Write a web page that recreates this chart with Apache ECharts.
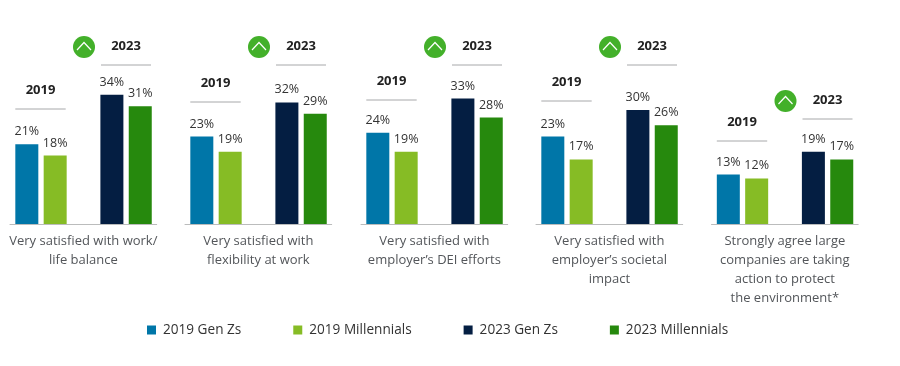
<!DOCTYPE html>
<html>
<head>
<meta charset="utf-8">
<style>
  html, body { margin: 0; padding: 0; background: #fff; }
  #chart { width: 900px; height: 366px; }
</style>
<script src="https://cdn.jsdelivr.net/npm/echarts@6/dist/echarts.min.js"></script>
</head>
<body>
<div id="chart"></div>
<script>
// values, one entry per panel
const captions = [
  'Very satisfied with work/\nlife balance',
  'Very satisfied with\nflexibility at work',
  'Very satisfied with\nemployer\u2019s DEI efforts',
  'Very satisfied with\nemployer\u2019s societal\nimpact',
  'Strongly agree large\ncompanies are taking\naction to protect\nthe environment*'
];
const seriesNames = ['2019 Gen Zs', '2019 Millennials', '2023 Gen Zs', '2023 Millennials'];
const genZ2019 = [21, 23, 24, 23, 13];
const mill2019 = [18, 19, 19, 17, 12];
const genZ2023 = [34, 32, 33, 30, 19];
const mill2023 = [31, 29, 28, 26, 17];
const yearLabels = ['2019', '2023'];

// layout
const colors = ['#0076A8', '#86BC25', '#041E42', '#26890D'];
const slots = [0, 1, 3, 4]; // bar slots on the x axis, slot 2 is the gap
const panelLeft = [10, 185, 361, 536, 711.5];
const panelWidth = 146.7;
const header2019Y = [109, 102, 100, 101, 141];
const header2023Y = [65, 65, 65, 65, 119];
const font = '"Open Sans", sans-serif';

const allValues = [genZ2019, mill2019, genZ2023, mill2023];

const grids = [], xAxes = [], yAxes = [], series = [], graphics = [];

panelLeft.forEach((left, p) => {
  grids.push({ left: left, top: 34, width: panelWidth, height: 190 });
  xAxes.push({
    type: 'value', gridIndex: p, min: -0.593, max: 4.58,
    axisLabel: { show: false }, axisTick: { show: false }, splitLine: { show: false },
    axisLine: { show: true, onZero: false, lineStyle: { color: '#BBBCBC', width: 1 } },
    name: captions[p],
    nameLocation: 'middle',
    nameGap: 8,
    nameTextStyle: {
      fontFamily: font, fontSize: 13, color: '#53565A',
      lineHeight: 19, align: 'center', verticalAlign: 'top'
    }
  });
  yAxes.push({ type: 'value', gridIndex: p, min: 0, max: 50, show: false });

  seriesNames.forEach((name, s) => {
    series.push({
      name: name,
      type: 'bar',
      xAxisIndex: p,
      yAxisIndex: p,
      barWidth: 23,
      barGap: '-100%',
      itemStyle: { color: colors[s] },
      label: {
        show: true, position: 'top', distance: 6,
        fontFamily: font, fontSize: 12.5, color: '#333',
        formatter: (d) => d.value[1] + '%'
      },
      data: [[slots[s], allValues[s][p]]]
    });
  });

  // year headers and the up badge
  [[5.3, 55.7, header2019Y[p]], [91, 141, header2023Y[p]]].forEach((h, i) => {
    graphics.push({
      type: 'line',
      shape: { x1: left + h[0], y1: h[2], x2: left + h[1], y2: h[2] },
      style: { stroke: '#A7A8AA', lineWidth: 1 }
    });
    graphics.push({
      type: 'text', x: left + (h[0] + h[1]) / 2, y: h[2] - 18.5,
      style: {
        text: yearLabels[i], fontFamily: font, fontSize: 13, fontWeight: 'bold',
        fill: '#222', align: 'center', verticalAlign: 'middle'
      }
    });
  });
  const cx = left + 74, cy = header2023Y[p] - 18;
  graphics.push({ type: 'circle', shape: { cx: cx, cy: cy, r: 11 }, style: { fill: '#43B02A' } });
  graphics.push({
    type: 'polyline',
    shape: { points: [[cx - 7, cy + 3], [cx, cy - 4.5], [cx + 7, cy + 3]] },
    style: { stroke: '#fff', fill: 'none', lineWidth: 1.2 }
  });
});

const chart = echarts.init(document.getElementById('chart'));
chart.setOption({
  animation: false,
  textStyle: { fontFamily: font },
  legend: {
    data: seriesNames,
    left: 142,
    top: 318,
    icon: 'rect',
    itemWidth: 9,
    itemHeight: 9,
    itemGap: 52,
    selectedMode: false,
    textStyle: { fontFamily: font, fontSize: 13.6, color: '#333', padding: [0, 0, 0, 2] }
  },
  grid: grids,
  xAxis: xAxes,
  yAxis: yAxes,
  series: series,
  graphic: graphics
});
</script>
</body>
</html>
